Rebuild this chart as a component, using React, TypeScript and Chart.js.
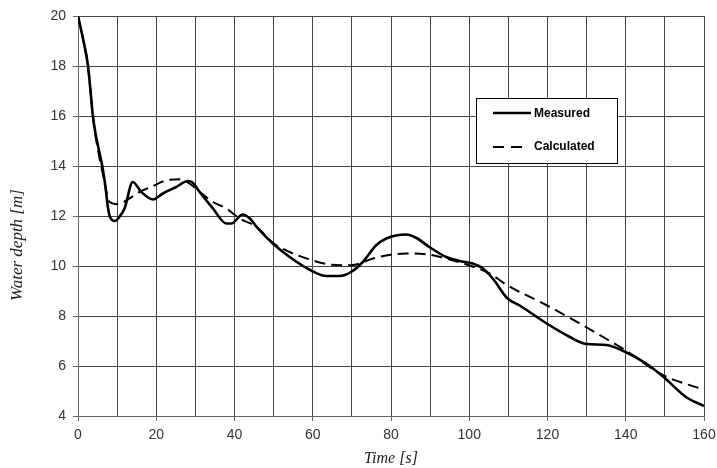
import React, { useEffect, useRef } from "react";
import { Chart, registerables } from "chart.js";

Chart.register(...registerables);

const measuredTime = [0, 1.2, 2.56, 3.2, 3.8, 4.6, 5.4, 6.2, 7.0, 7.6, 8.1, 9.4, 10.6, 11.9, 14.0, 16.2, 19.2, 21.7, 25.1, 28.1, 29.2, 31.1, 34.5, 37.9, 39.2, 42.1, 43.9, 46, 49.8, 54.1, 59.8, 63.4, 66.8, 69.8, 72.8, 76.2, 78.8, 83.9, 86.4, 89.8, 94.1, 97.5, 100.9, 103.5, 106, 109.8, 112.8, 119.8, 125.6, 129.9, 135, 139.8, 145.2, 149.6, 155.4, 160];
const measuredDepth = [20, 19.15, 18, 17, 16, 15.2, 14.6, 14, 13.2, 12.4, 12.0, 11.8, 11.97, 12.3, 13.36, 12.96, 12.66, 12.9, 13.16, 13.4, 13.35, 12.96, 12.3, 11.7, 11.7, 12.06, 11.9, 11.5, 10.9, 10.36, 9.8, 9.6, 9.6, 9.76, 10.16, 10.83, 11.1, 11.26, 11.13, 10.76, 10.36, 10.2, 10.1, 9.9, 9.5, 8.7, 8.43, 7.7, 7.17, 6.88, 6.84, 6.57, 6.1, 5.57, 4.76, 4.4];

const calcTime = [0, 1.2, 2.56, 3.2, 3.8, 4.6, 5.4, 6.2, 7.2, 8.1, 10.2, 12.4, 15.8, 19.2, 22.6, 26, 28.5, 31.1, 34.5, 37.9, 41.3, 45.6, 49.8, 54.1, 59.8, 64.3, 69.8, 75.4, 79.9, 83.9, 89.8, 94.1, 99.9, 105.2, 109.7, 119.8, 129.7, 134.1, 139.8, 149.6, 160];
const calcDepth = [20, 19.15, 18, 17, 16, 15.1, 14.4, 13.8, 13.0, 12.56, 12.47, 12.63, 12.97, 13.2, 13.43, 13.47, 13.3, 12.96, 12.56, 12.3, 11.9, 11.57, 10.93, 10.56, 10.23, 10.06, 10.03, 10.3, 10.45, 10.5, 10.45, 10.3, 10.03, 9.7, 9.23, 8.43, 7.57, 7.17, 6.64, 5.63, 5.05];

const seriesNames = ["Measured", "Calculated"];
const xTitle = "Time [s]";
const yTitle = "Water depth [m]";

const legendPlugin = {
  id: "insideLegend",
  afterDraw(chart: any) {
    const ctx = chart.ctx;
    ctx.save();
    const bx = 476, by = 98, bw = 141, bh = 65;
    ctx.fillStyle = "#ffffff";
    ctx.fillRect(bx, by, bw, bh);
    ctx.strokeStyle = "#000";
    ctx.lineWidth = 1;
    ctx.strokeRect(bx + 0.5, by + 0.5, bw, bh);
    ctx.font = "bold 12px 'Liberation Sans', Arial, sans-serif";
    ctx.fillStyle = "#000";
    ctx.textBaseline = "middle";
    ctx.textAlign = "left";
    ctx.beginPath();
    ctx.lineWidth = 2.5;
    ctx.setLineDash([]);
    ctx.moveTo(493, 113);
    ctx.lineTo(531, 113);
    ctx.stroke();
    ctx.fillText(seriesNames[0], 534, 113.5);
    ctx.beginPath();
    ctx.lineWidth = 2;
    ctx.setLineDash([11, 7]);
    ctx.moveTo(493, 147);
    ctx.lineTo(527, 147);
    ctx.stroke();
    ctx.setLineDash([]);
    ctx.fillText(seriesNames[1], 534, 147);
    ctx.translate(18, 245);
    ctx.rotate(-Math.PI / 2);
    ctx.textAlign = "center";
    ctx.font = "italic 17px 'Liberation Serif', 'Times New Roman', serif";
    ctx.fillStyle = "#222";
    ctx.fillText(yTitle, 0, 0);
    ctx.restore();
  },
};

export default function App() {
  const ref = useRef<HTMLCanvasElement | null>(null);
  useEffect(() => {
    if (!ref.current) return;
    const chart = new Chart(ref.current, {
      type: "line",
      data: {
        datasets: [
          {
            label: seriesNames[0],
            data: measuredTime.map((t, i) => ({ x: t, y: measuredDepth[i] })),
            borderColor: "#000",
            borderWidth: 2.6,
            pointRadius: 0,
            cubicInterpolationMode: "monotone",
            fill: false,
          },
          {
            label: seriesNames[1],
            data: calcTime.map((t, i) => ({ x: t, y: calcDepth[i] })),
            borderColor: "#000",
            borderWidth: 2,
            borderDash: [11, 6],
            pointRadius: 0,
            cubicInterpolationMode: "monotone",
            fill: false,
          },
        ],
      },
      options: {
        responsive: false,
        animation: false,
        devicePixelRatio: 1,
        layout: { padding: { left: 0, top: 16, right: 13, bottom: 0 } },
        plugins: { legend: { display: false }, tooltip: { enabled: false } },
        scales: {
          x: {
            type: "linear",
            min: 0,
            max: 160,
            afterFit: (s: any) => {
              s.height = 52;
              s.paddingRight = 0;
              s.paddingLeft = 0;
            },
            ticks: {
              stepSize: 10,
              autoSkip: false,
              maxRotation: 0,
              padding: 6,
              color: "#333",
              font: { family: "'Liberation Sans', Arial, sans-serif", size: 14 },
              callback: (v: any) => (Number(v) % 20 === 0 ? String(v) : ""),
            },
            grid: {
              color: "#444",
              lineWidth: 1,
              tickLength: 5,
              tickColor: (c: any) => (c.tick && c.tick.value % 20 === 0 ? "#666" : "rgba(0,0,0,0)"),
            },
            border: { color: "#666", width: 1 },
            title: {
              display: true,
              text: xTitle,
              color: "#222",
              font: { family: "'Liberation Serif', 'Times New Roman', serif", size: 16, style: "italic" },
              padding: { top: 0, bottom: 0 },
            },
          },
          y: {
            min: 4,
            max: 20,
            afterFit: (s: any) => {
              s.width = 78;
              s.paddingTop = 0;
              s.paddingBottom = 0;
            },
            ticks: {
              stepSize: 2,
              padding: 7,
              color: "#333",
              font: { family: "'Liberation Sans', Arial, sans-serif", size: 14 },
            },
            grid: { color: "#444", lineWidth: 1, tickLength: 5, tickColor: "#666" },
            border: { color: "#666", width: 1 },
          },
        },
      },
      plugins: [legendPlugin],
    } as any);
    return () => chart.destroy();
  }, []);
  return (
    <div style={{ position: "fixed", left: 0, top: 0, width: 717, height: 468, background: "#fff" }}>
      <canvas ref={ref} width={717} height={468} style={{ width: 717, height: 468, display: "block" }} />
    </div>
  );
}
